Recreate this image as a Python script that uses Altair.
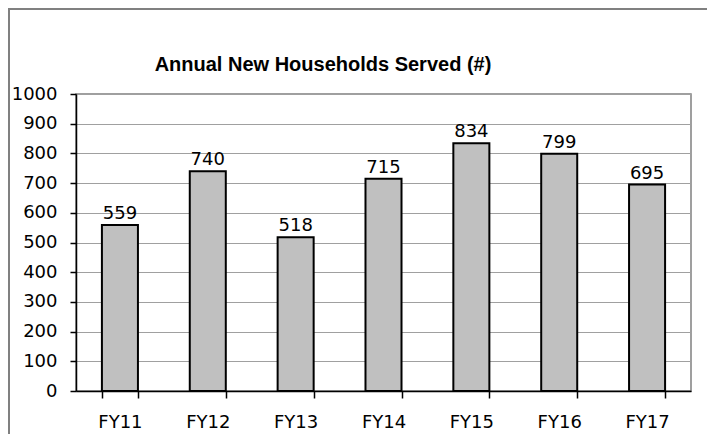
import altair as alt
import pandas as pd

years = ["FY11", "FY12", "FY13", "FY14", "FY15", "FY16", "FY17"]
households = [559, 740, 518, 715, 834, 799, 695]
y_ticks = [0, 100, 200, 300, 400, 500, 600, 700, 800, 900, 1000]
title_text = "Annual New Households Served (#)"

df = pd.DataFrame({"year": years, "value": households})
FONT = "DejaVu Sans"
TITLE_FONT = "Liberation Sans"

x_enc = alt.X("year:N", sort=years, title=None,
              scale=alt.Scale(paddingInner=0.59, paddingOuter=0.295),
              axis=alt.Axis(labelAngle=0, tickBand="extent", tickSize=7,
                            labelPadding=15, grid=False))
y_enc = alt.Y("value:Q", title=None,
              scale=alt.Scale(domain=[0, 1000], nice=False),
              axis=alt.Axis(values=y_ticks, format="d", tickSize=6,
                            labelPadding=13, grid=True))

bars = alt.Chart(df).mark_bar(fill="#c0c0c0", stroke="black", strokeWidth=2).encode(
    x=x_enc, y=y_enc)

labels = alt.Chart(df).mark_text(baseline="alphabetic", dy=-6, font=FONT,
                                 fontSize=18, color="black").encode(
    x=x_enc, y=y_enc, text="value:Q")

frame = alt.Chart(pd.DataFrame({"a": [0]})).mark_rect(
    fill=None, stroke="#808080", strokeWidth=2).encode(
    x=alt.value(-67), x2=alt.value(700), y=alt.value(-85), y2=alt.value(400))

title = alt.Chart(pd.DataFrame({"t": [title_text]})).mark_text(
    font=TITLE_FONT, fontSize=20, fontWeight="bold", color="black",
    align="center", baseline="alphabetic").encode(
    x=alt.value(247), y=alt.value(-23), text="t:N")

chart = alt.layer(frame, bars, labels, title).properties(
    width=615, height=297,
    background="white",
    autosize=alt.AutoSizeParams(type="none"),
    padding={"left": 68, "top": 86, "right": 16, "bottom": 43},
).configure_axis(
    labelFont=FONT, labelFontSize=18, labelColor="black",
    tickColor="black", tickWidth=1.5, domainColor="black", domainWidth=1.5,
    gridColor="#a0a0a0", gridWidth=1,
).configure_view(stroke="#808080", strokeWidth=1.5)

chart.save("out.html", embed_options={"renderer": "svg", "actions": False})
